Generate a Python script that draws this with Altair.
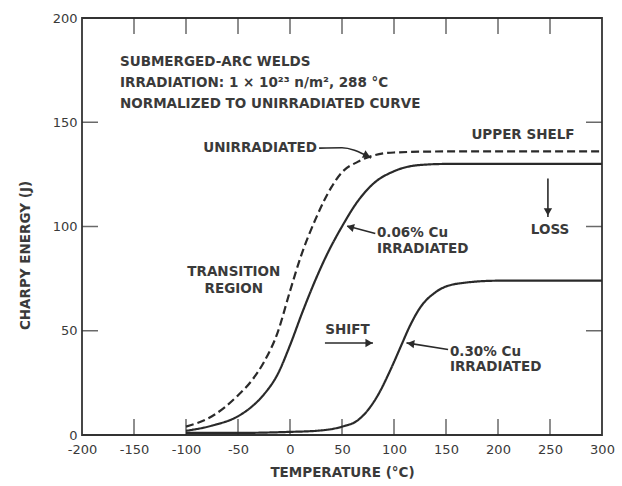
import altair as alt
import pandas as pd

# ---- curve data ----
temps_unirr = [-100, -75, -50, -37, -25, -12, 0, 10, 25, 40, 50, 65, 80, 100, 150, 200, 300]
energy_unirr = [4, 9, 19, 26, 35, 49, 69, 85, 104, 119, 126, 131, 134, 135.5, 136, 136, 136]

temps_cu006 = [-100, -75, -50, -37, -25, -12, 0, 12, 25, 35, 50, 65, 80, 100, 125, 150, 200, 300]
energy_cu006 = [2, 4.5, 9, 13.5, 19.5, 29, 43, 59, 75, 86, 100, 112, 120.5, 126.5, 129.5, 130, 130, 130]

temps_cu030 = [-100, -50, 0, 25, 50, 65, 75, 85, 95, 100, 107, 115, 125, 140, 160, 200, 300]
energy_cu030 = [1, 1, 1.5, 2, 4, 7, 12, 19.5, 29.5, 35, 43, 52, 61, 68.5, 72.5, 74, 74]

series_names = ["UNIRRADIATED", "0.06% Cu", "0.30% Cu"]

# ---- axis tick values ----
x_labels = [-200, -150, -100, -50, 0, 50, 100, 150, 200, 250, 300]
y_labels = [0, 50, 100, 150, 200]
x_inner_ticks = [-150, -100, -50, 0, 50, 100, 150, 200, 250]
y_inner_ticks = [50, 100, 150]

# ---- annotation texts ----
note_lines = ["SUBMERGED-ARC WELDS",
              "IRRADIATION: 1 \u00d7 10\u00b2\u00b3 n/m\u00b2, 288 \u00b0C",
              "NORMALIZED TO UNIRRADIATED CURVE"]
note_x = [-163.5, -163.5, -163.5]
note_y = [178.9, 168.8, 158.7]

label_left_text = ["0.06% Cu", "IRRADIATED", "0.30% Cu", "IRRADIATED"]
label_left_x = [83.6, 83.6, 153.8, 153.8]
label_left_y = [96.8, 89.4, 40.0, 32.6]

label_center_text = ["UPPER SHELF", "TRANSITION", "REGION", "SHIFT", "LOSS"]
label_center_x = [224, -54, -54, 55.3, 250]
label_center_y = [143.9, 78.2, 70.0, 50.4, 98.3]

label_right_text = ["UNIRRADIATED"]
label_right_x = [26]
label_right_y = [137.6]

# leader / arrow lines
leader_id = [0, 0, 0, 0, 0, 1, 1, 2, 2, 3, 3, 4, 4]
leader_x = [28, 50, 62, 71, 78, 248, 248, 33.6, 79.8, 82, 55, 152, 112]
leader_y = [137.6, 137.8, 136.6, 134.6, 132.8, 123, 104.5, 44.1, 44.1, 96.6, 100.2, 41.0, 44.2]

head_x = [74, 248, 76, 58, 116]
head_y = [134, 107, 44.1, 99.7, 43.8]
head_angle = [25, 90, 0, 195, 188]

# ---- build tables ----
curves = pd.DataFrame({
    "t": temps_unirr + temps_cu006 + temps_cu030,
    "e": energy_unirr + energy_cu006 + energy_cu030,
    "s": [series_names[0]] * len(temps_unirr)
         + [series_names[1]] * len(temps_cu006)
         + [series_names[2]] * len(temps_cu030),
})

FONT = "DejaVu Sans"
INK = "#2a2a2a"
TXT = "#3a3a3a"
ANN_SIZE = 13.5

xs = alt.Scale(domain=[-200, 300], nice=False, zero=False)
ys = alt.Scale(domain=[0, 200], nice=False)

x_axis = alt.Axis(values=x_labels, ticks=False, domain=False, grid=False,
                  title="TEMPERATURE (\u00b0C)", labelFont=FONT, labelFontSize=13,
                  labelColor=TXT, labelPadding=8, titleFont=FONT, titleFontSize=ANN_SIZE,
                  titleFontWeight="bold", titleColor=TXT, titlePadding=9,
                  labelFlush=False, labelExpr="'' + datum.value")
y_axis = alt.Axis(values=y_labels, ticks=False, domain=False, grid=False,
                  title="CHARPY ENERGY (J)", labelFont=FONT, labelFontSize=13,
                  labelColor=TXT, labelPadding=5, titleFont=FONT, titleFontSize=ANN_SIZE,
                  titleFontWeight="bold", titleColor=TXT, titleAngle=270,
                  titleX=-57, titleY=237, titleAlign="center", titleBaseline="middle",
                  labelFlush=False, labelExpr="'' + datum.value")

X = alt.X("t:Q", scale=xs, title="TEMPERATURE (\u00b0C)")
Y = alt.Y("e:Q", scale=ys, title="CHARPY ENERGY (J)")

lines = alt.Chart(curves).mark_line(interpolate="monotone", strokeWidth=2.2, color=INK).encode(
    x=alt.X("t:Q", scale=xs, axis=x_axis),
    y=alt.Y("e:Q", scale=ys, axis=y_axis),
    strokeDash=alt.StrokeDash("s:N", scale=alt.Scale(domain=series_names,
                                                     range=[[8, 4], [1, 0], [1, 0]]),
                              legend=None),
    detail="s:N",
)

xt = pd.DataFrame({"t": x_inner_ticks})
yt = pd.DataFrame({"e": y_inner_ticks})

bottom_ticks = alt.Chart(xt).mark_tick(orient="vertical", size=16, thickness=1.5,
                                       yOffset=-8, color=INK).encode(
    x=X, y=alt.datum(0))
top_ticks = alt.Chart(xt).mark_tick(orient="vertical", size=16, thickness=1.5,
                                    yOffset=8, color=INK).encode(
    x=X, y=alt.datum(200))
left_ticks = alt.Chart(yt).mark_tick(orient="horizontal", size=16, thickness=1.5,
                                     xOffset=8, color=INK).encode(
    y=Y, x=alt.datum(-200))
right_ticks = alt.Chart(yt).mark_tick(orient="horizontal", size=16, thickness=1.5,
                                      xOffset=-8, color=INK).encode(
    y=Y, x=alt.datum(300))


def text_layer(texts, xv, yv, align):
    df = pd.DataFrame({"t": xv, "e": yv, "txt": texts})
    return alt.Chart(df).mark_text(align=align, baseline="middle", font=FONT,
                                   fontSize=ANN_SIZE, fontWeight="bold", color=TXT).encode(
        x=X, y=Y, text="txt:N")


notes = text_layer(note_lines, note_x, note_y, "left")
lab_l = text_layer(label_left_text, label_left_x, label_left_y, "left")
lab_c = text_layer(label_center_text, label_center_x, label_center_y, "center")
lab_r = text_layer(label_right_text, label_right_x, label_right_y, "right")

ld = pd.DataFrame({"t": leader_x, "e": leader_y, "g": leader_id,
                   "o": list(range(len(leader_x)))})
leaders = alt.Chart(ld).mark_line(interpolate="monotone", strokeWidth=1.6, color=INK).encode(
    x=X, y=Y, detail="g:N", order="o:Q")

hd = pd.DataFrame({"t": head_x, "e": head_y, "a": head_angle})
heads = alt.Chart(hd).mark_point(shape="triangle-right", filled=True, size=70,
                                 color=INK, opacity=1).encode(
    x=X, y=Y, angle=alt.Angle("a:Q", scale=None))

chart = alt.layer(
    lines, bottom_ticks, top_ticks, left_ticks, right_ticks,
    leaders, heads, notes, lab_l, lab_c, lab_r,
).properties(
    width=520, height=417,
    padding={"left": 82, "top": 18, "right": 20, "bottom": 51},
    autosize=alt.AutoSizeParams(type="none"),
    background="white",
).configure_view(stroke="#333333", strokeWidth=1.8)

chart.save("out.html", embed_options={"renderer": "svg", "actions": False})
